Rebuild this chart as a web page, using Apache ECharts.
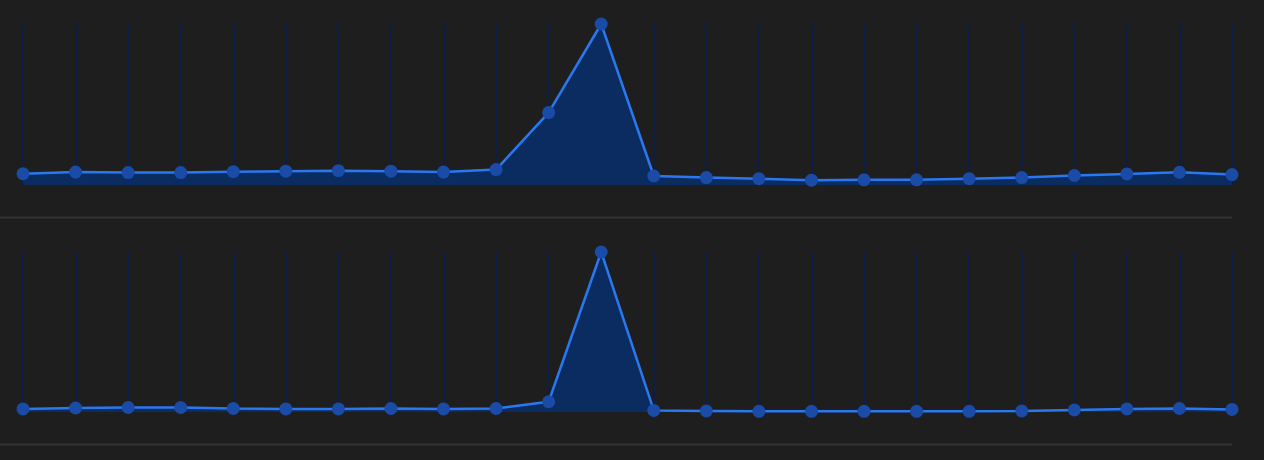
<!DOCTYPE html>
<html>
<head>
<meta charset="utf-8">
<script src="https://cdn.jsdelivr.net/npm/echarts@6/dist/echarts.min.js"></script>
<style>
html,body{margin:0;padding:0;background:#1e1e1e;}
#c{width:1264px;height:460px;}
</style>
</head>
<body>
<div id="c"></div>
<script>
const categories = Array.from({length: 24}, (_, i) => String(i));
const topValues = [7.0, 8.0, 7.7, 7.7, 8.3, 8.6, 8.9, 8.6, 8.0, 9.6, 45, 100, 5.6, 4.6, 3.9, 3.0, 3.2, 3.2, 3.9, 4.6, 5.9, 6.9, 7.9, 6.5];
const bottomValues = [1.9, 2.5, 2.8, 2.8, 2.2, 1.9, 1.9, 2.2, 1.9, 2.2, 6.4, 100, 1.0, 0.7, 0.4, 0.4, 0.4, 0.4, 0.4, 0.7, 1.3, 1.9, 2.2, 1.6];

const chart = echarts.init(document.getElementById('c'), null, {renderer: 'canvas'});

function xAxisCfg(gridIndex) {
  return {
    type: 'category', gridIndex, data: categories, boundaryGap: false,
    axisLine: {show: false}, axisTick: {show: false}, axisLabel: {show: false},
    splitLine: {show: true, lineStyle: {color: '#0c1e46', width: 2}}
  };
}
function yAxisCfg(gridIndex) {
  return {
    type: 'value', gridIndex, min: 0, max: 100,
    axisLine: {show: false}, axisTick: {show: false}, axisLabel: {show: false},
    splitLine: {show: false}
  };
}
function seriesCfg(idx, data) {
  return {
    type: 'line', xAxisIndex: idx, yAxisIndex: idx, data,
    symbol: 'circle', symbolSize: 13, showSymbol: true,
    lineStyle: {color: '#2a78f0', width: 2.5},
    itemStyle: {color: '#1a4ba6'},
    areaStyle: {color: '#0b2c60', opacity: 1},
    z: 3
  };
}

chart.setOption({
  backgroundColor: '#1e1e1e',
  animation: false,
  grid: [
    {left: 23, right: 32, top: 24, height: 161},
    {left: 23, right: 32, top: 252, height: 160}
  ],
  xAxis: [xAxisCfg(0), xAxisCfg(1)],
  yAxis: [yAxisCfg(0), yAxisCfg(1)],
  series: [seriesCfg(0, topValues), seriesCfg(1, bottomValues)],
  graphic: [
    {type: 'line', shape: {x1: 0, y1: 217.5, x2: 1232, y2: 217.5}, style: {stroke: '#333333', lineWidth: 2}, silent: true},
    {type: 'line', shape: {x1: 0, y1: 444.5, x2: 1232, y2: 444.5}, style: {stroke: '#333333', lineWidth: 2}, silent: true}
  ]
});
</script>
</body>
</html>
